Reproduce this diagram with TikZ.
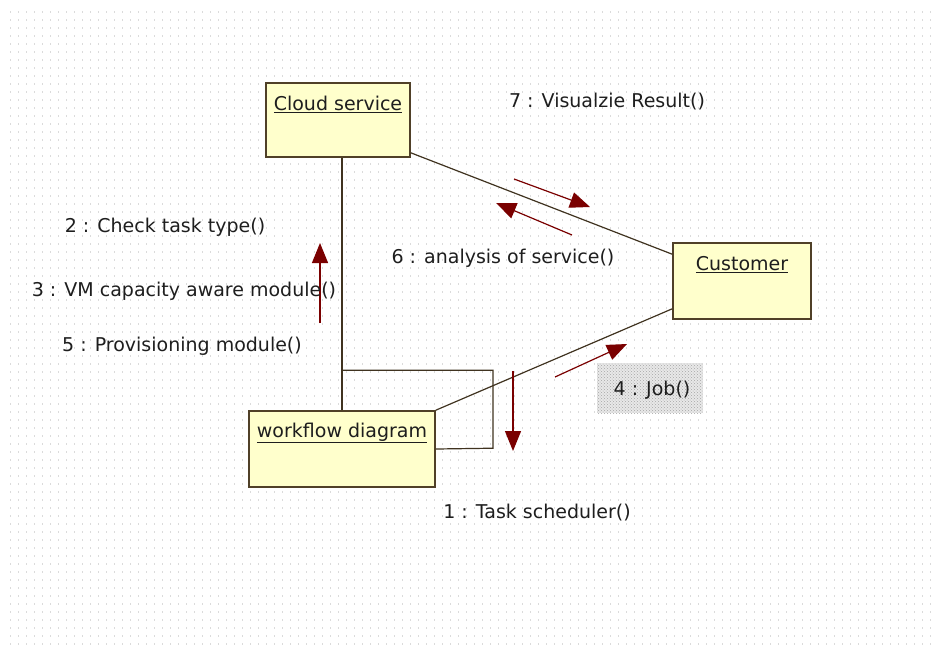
\documentclass[tikz,border=0pt]{standalone}
\usepackage{fontspec}
\setmainfont{DejaVu Sans}
\usetikzlibrary{arrows.meta,calc,patterns}
\definecolor{objfill}{RGB}{255,255,204}
\definecolor{objline}{RGB}{80,64,40}
\definecolor{msgred}{RGB}{122,0,0}
\definecolor{inkgray}{RGB}{30,30,30}
\tikzset{
  objbox/.style={draw=objline, line width=1.6pt, fill=objfill, minimum width=#1, inner sep=0pt},
  objname/.style={font=\fontsize{19}{22}\selectfont, text=inkgray, inner sep=0pt},
  link/.style={draw=objline!80!black, line width=1.2pt},
  msg/.style={draw=msgred, line width=1.2pt, -{Triangle[length=20pt,width=16pt]}},
  msglabel/.style={font=\fontsize{19}{22}\selectfont, text=inkgray, inner sep=0pt},
}
\newcommand{\objtitle}[1]{\underline{#1}}
\begin{document}
\begin{tikzpicture}[x=1pt,y=-1pt]
  % canvas with faint dotted grid
  \fill[white] (0,0) rectangle (944,649);
  \useasboundingbox (0,0) rectangle (944,649);
  \foreach \r in {0,...,79}{
    \draw[gray!28, line width=1.4pt, dash pattern=on 1.4pt off 6.6pt]
      (10,{12+8*\r}) -- (936,{12+8*\r});
  }

  % objects
  \node[objbox=144pt, minimum height=74pt] (cloud) at (338,120) {};
  \node[objbox=138pt, minimum height=76pt] (customer) at (742,281) {};
  \node[objbox=186pt, minimum height=76pt] (workflow) at (342,449) {};
  \node[objname] (cloudname) at (338,104) {\objtitle{Cloud service}};
  \node[objname] (customername) at (742,265) {\objtitle{Customer}};
  \node[objname] (workflowname) at (342,433) {\objtitle{workflow diagram}};

  % links
  \draw[link] ([yshift=5pt]cloud.south east) -- ([yshift=-12pt]customer.north west);
  \draw[link] (workflow.north east) -- ([yshift=11pt]customer.south west);
  \draw[link] (workflow.north) -- (workflow.north |- cloud.south);
  \draw[link] (workflow.north) ++(0,-40) coordinate (loopstart)
     -- ++(151,0) -- ++(0,78) -- (workflow.east);

  % messages
  \coordinate (m7a) at (514,179);  \coordinate (m7b) at (590,207);
  \coordinate (m6a) at (572,235);  \coordinate (m6b) at (496,203);
  \coordinate (m2a) at (320,323);  \coordinate (m2b) at (320,243);
  \coordinate (m1a) at (513,371);  \coordinate (m1b) at (513,451);
  \coordinate (m4a) at (555,377);  \coordinate (m4b) at (627,344);
  \draw[msg] (m7a) -- (m7b);
  \draw[msg] (m6a) -- (m6b);
  \draw[msg] (m2a) -- (m2b);
  \draw[msg] (m1a) -- (m1b);
  \draw[msg] (m4a) -- (m4b);

  % message labels
  \node[msglabel] (l7) at (607,102) {7 : Visualzie Result()};
  \node[msglabel] (l2) at (165,227) {2 : Check task type()};
  \node[msglabel] (l3) at (184,291) {3 : VM capacity aware module()};
  \node[msglabel] (l5) at (182,346) {5 : Provisioning module()};
  \node[msglabel] (l6) at (503,258) {6 : analysis of service()};
  \fill[gray!18] (597,363) rectangle (703,413);
  \fill[pattern=crosshatch dots, pattern color=gray!70] (597,363) rectangle (703,413);
  \node[msglabel] (l4) at (652,390) {4 : Job()};
  \node[msglabel] (l1) at (537,513) {1 : Task scheduler()};
\end{tikzpicture}
\end{document}
